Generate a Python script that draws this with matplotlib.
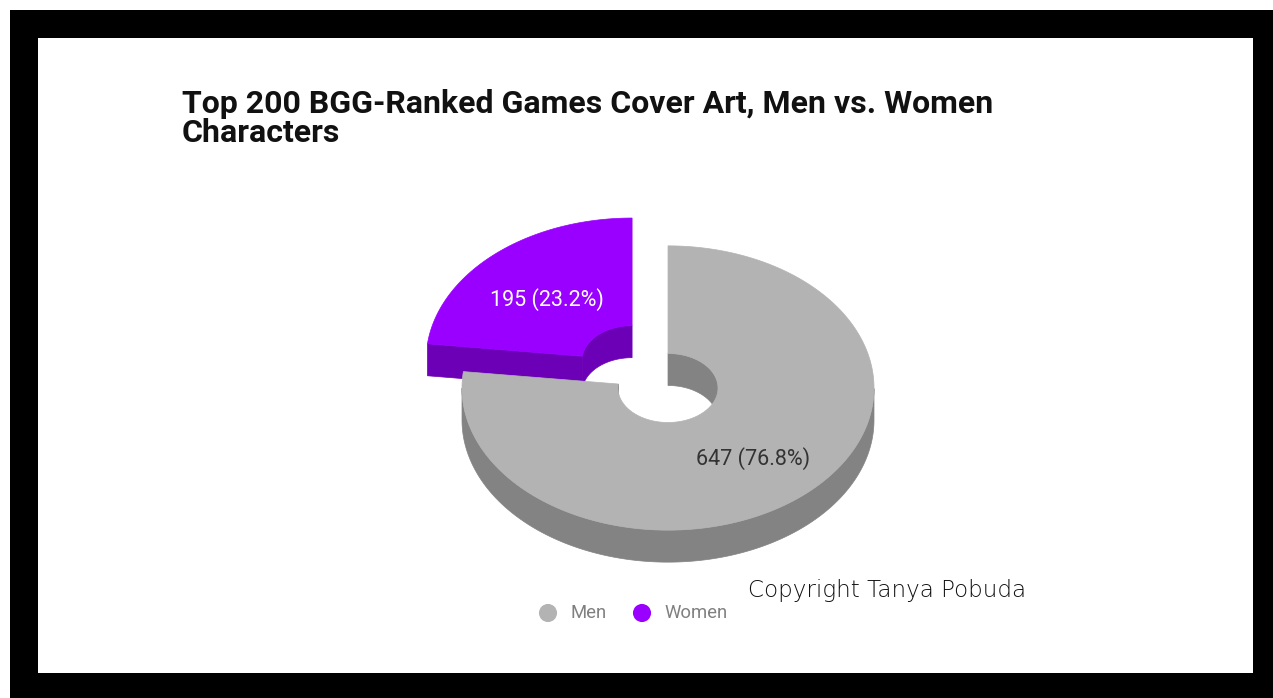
import numpy as np
import matplotlib
matplotlib.use("Agg")
import matplotlib.pyplot as plt
from matplotlib.patches import Polygon, Rectangle

# ---- data ----
categories = ["Women", "Men"]
values = [195, 647]
top_colors = ["#9900ff", "#b3b3b3"]
side_colors = ["#6c00b6", "#838383"]
label_colors = ["#ffffff", "#333333"]
title = "Top 200 BGG-Ranked Games Cover Art, Men vs. Women\nCharacters"
legend_order = ["Men", "Women"]

W, H = 1273, 698
fig = plt.figure(figsize=(W / 100, H / 100), dpi=100)
fig.patch.set_facecolor("white")

# frame
fig.patches.append(Rectangle((10 / W, 0), 1 - 10 / W, 1 - 10 / H, transform=fig.transFigure,
                             facecolor="black", edgecolor="none", zorder=-2))
fig.patches.append(Rectangle((38 / W, (H - 673) / H), (1253 - 38) / W, (673 - 38) / H,
                             transform=fig.transFigure, facecolor="white", edgecolor="none", zorder=-1))

ax = fig.add_axes([0, 0, 1, 1])
ax.set_zorder(1)
ax.set_xlim(0, W)
ax.set_ylim(H, 0)
ax.axis("off")
ax.patch.set_alpha(0)

# layout of pseudo-3D donut
cx, cy = 668, 388
R, ri = 206, 50
k = 0.69
depth = 32
explode = [54, 0]

total = sum(values)
fracs = [v / total for v in values]
start = 90.0
angles = []
a = start
for f in fracs:
    angles.append((a, a + 360 * f))
    a += 360 * f


def pt(r, t, ox, oy, dz=0):
    t = np.radians(t)
    return np.column_stack([ox + r * np.cos(t), oy - k * r * np.sin(t) + dz])


def runs(mask):
    """contiguous True runs as (start, end) index pairs"""
    out = []
    i = 0
    n = len(mask)
    while i < n:
        if mask[i]:
            j = i
            while j + 1 < n and mask[j + 1]:
                j += 1
            out.append((i, j))
            i = j + 1
        else:
            i += 1
    return out


def wall(r, seg, ox, oy, color, z):
    if len(seg) < 2:
        return
    top = pt(r, seg, ox, oy)
    bot = pt(r, seg[::-1], ox, oy, depth)
    ax.add_patch(Polygon(np.vstack([top, bot]), closed=True, facecolor=color,
                         edgecolor=color, lw=0.5, zorder=z))


def draw_slice(i, z):
    a0, a1 = angles[i]
    mid = np.radians((a0 + a1) / 2)
    ox = cx + explode[i] * np.cos(mid)
    oy = cy - k * explode[i] * np.sin(mid)
    tt = np.linspace(a0, a1, 1200)
    sn = np.sin(np.radians(tt))
    # outer wall (front half)
    for s, e in runs(sn < 0):
        wall(R, tt[s:e + 1], ox, oy, side_colors[i], z)
    # inner wall (back half)
    for s, e in runs(sn > 0):
        wall(ri, tt[s:e + 1], ox, oy, side_colors[i], z)
    # cut faces facing viewer
    for ang, sign in ((a0, -1), (a1, 1)):
        normal = ang + sign * 90
        if np.sin(np.radians(normal)) < -1e-6:
            p1 = pt(ri, [ang], ox, oy)[0]
            p2 = pt(R, [ang], ox, oy)[0]
            quad = np.array([p1, p2, p2 + [0, depth], p1 + [0, depth]])
            ax.add_patch(Polygon(quad, closed=True, facecolor=side_colors[i],
                                 edgecolor=side_colors[i], lw=0.5, zorder=z))
    # top face
    ts = np.linspace(a0, a1, 400)
    outer = pt(R, ts, ox, oy)
    inner = pt(ri, ts[::-1], ox, oy)
    ax.add_patch(Polygon(np.vstack([outer, inner]), closed=True, facecolor=top_colors[i],
                         edgecolor=top_colors[i], lw=0.5, zorder=z + 0.5))
    return ox, oy, mid


label_pos = []
for i, z in ((0, 2), (1, 4)):
    label_pos.append(draw_slice(i, z))

# labels
for i in range(2):
    ox, oy, mid = label_pos[i]
    rr = 128
    x = ox + rr * np.cos(mid)
    y = oy - k * rr * np.sin(mid) + 5
    pct = 100 * fracs[i]
    ax.text(x, y, f"{values[i]} ({pct:.1f}%)", ha="center", va="center",
            fontsize=15.5, family="Roboto", color=label_colors[i], zorder=10)

# title
fig.text(182 / W, 1 - 89 / H, title, ha="left", va="top", fontsize=23,
         family="Roboto", weight="bold", color="#111111", linespacing=0.97)

# legend
lx = [548, 642]
for name, x in zip(legend_order, lx):
    i = categories.index(name)
    ax.scatter([x], [613], s=170, color=top_colors[i], zorder=10, edgecolors="none")
    ax.text(x + 22, 613, name, ha="left", va="center", fontsize=13.3, family="Roboto",
            color="#808080", zorder=10)

# copyright
fig.text(748 / W, 1 - 590 / H, "Copyright Tanya Pobuda", ha="left", va="center",
         fontsize=16.6, family="DejaVu Sans", weight="light", color="#111111")

fig.savefig("out.png", dpi=100)
